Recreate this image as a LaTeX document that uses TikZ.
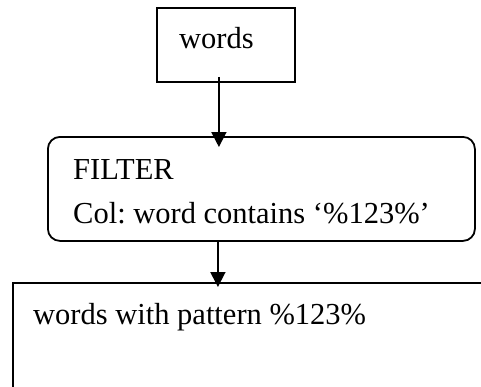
\documentclass[tikz,border=0pt]{standalone}
\usepackage{fontspec}
\setmainfont{Liberation Serif}
\usetikzlibrary{arrows.meta}
\frenchspacing
\begin{document}
\begin{tikzpicture}[x=1pt,y=-1pt,
  box/.style={draw, line width=1.8pt, inner sep=0pt, anchor=north west},
  txt/.style={anchor=base west, inner sep=0pt, font=\fontsize{30.5}{36}\selectfont},
  flow/.style={line width=1.8pt, -{Triangle[length=15pt,width=15pt]}}]
\useasboundingbox (0,0) rectangle (481,386);
\clip (0,0) rectangle (481,386);
% source table
\node[box, minimum width=138pt, minimum height=74pt] (src) at (156,7) {};
\node[txt] (srcText) at (179,48) {words};
% filter step
\node[box, rounded corners=12pt, minimum width=427pt, minimum height=104pt] (filter) at (47,136) {};
\node[txt] (filterTitle) at (73,179) {FILTER};
\node[txt] (filterCond) at (73,223) {Col: word contains ‘\%123\%’};
% result set
\node[box, minimum width=480pt, minimum height=130pt] (result) at (12,282) {};
\node[txt] (resultText) at (33,324) {words with pattern \%123\%};
% connectors
\coordinate (a1) at ([xshift=-7pt,yshift=6pt]src.south);
\draw[flow, shorten >=-11pt] (a1) -- (a1 |- filter.north);
\coordinate (a2) at ([xshift=-43.5pt]filter.south);
\draw[flow, shorten >=-5pt] (a2) -- (a2 |- result.north);
\end{tikzpicture}
\end{document}
